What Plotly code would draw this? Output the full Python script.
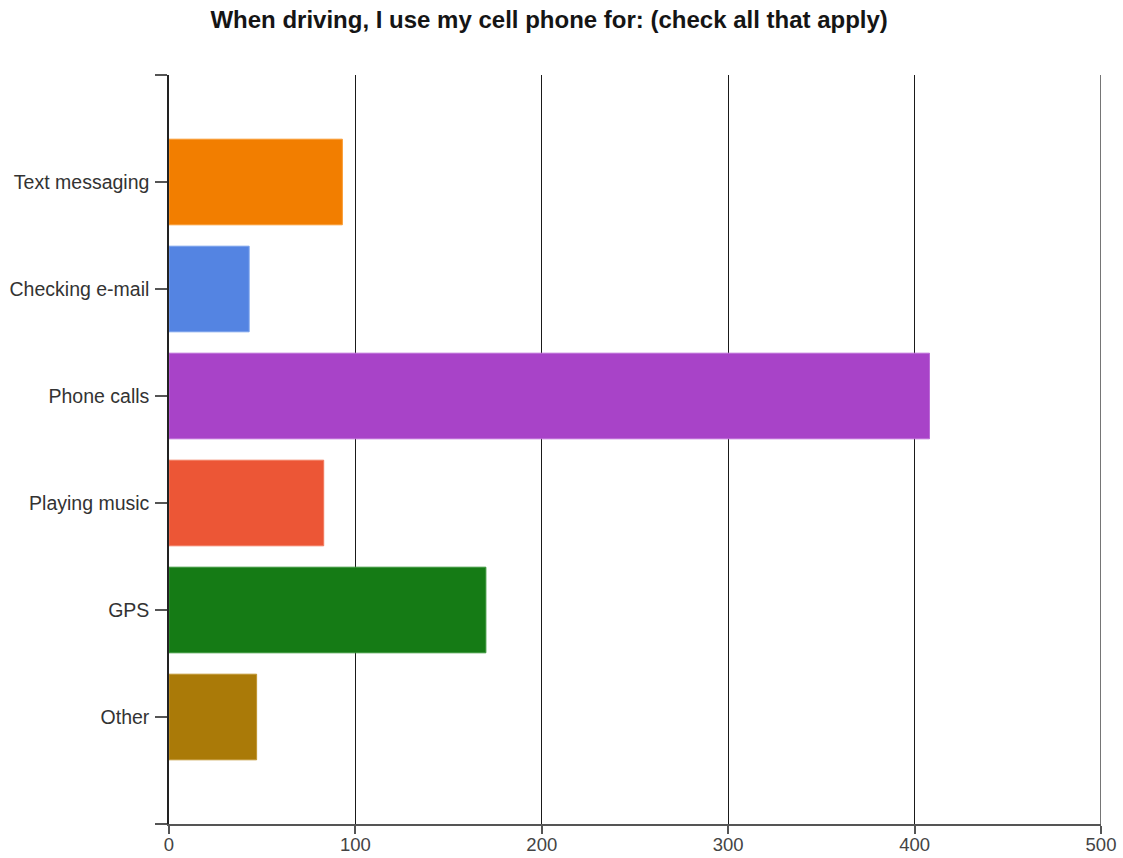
import plotly.graph_objects as go

categories = ["Text messaging", "Checking e-mail", "Phone calls", "Playing music", "GPS", "Other"]
values = [93, 43, 408, 83, 170, 47]
colors = ["#F27E00", "#5484E2", "#A843C8", "#EC5636", "#157B15", "#AA7A08"]
line_colors = ["#F99A30", "#78A0EC", "#BC6AD8", "#F27A5E", "#3A963A", "#C09530"]
x_ticks = [0, 100, 200, 300, 400, 500]

positions = list(range(len(categories)))

fig = go.Figure()
fig.add_trace(go.Bar(
    x=values,
    y=positions,
    orientation="h",
    width=0.8,
    marker=dict(color=colors, line=dict(color=line_colors, width=1)),
    hoverinfo="x+text",
    text=categories,
    textposition="none",
))

fig.update_layout(
    width=1123,
    height=858,
    paper_bgcolor="white",
    plot_bgcolor="white",
    margin=dict(l=169, r=22, t=75, b=34, autoexpand=False),
    title=dict(
        text="<b>When driving, I use my cell phone for: (check all that apply)</b>",
        x=0.489,
        xanchor="center",
        y=0.977,
        yanchor="middle",
        font=dict(family="Liberation Sans, Arial", size=24, color="#151515"),
    ),
    showlegend=False,
    font=dict(family="Liberation Sans, Arial", size=19, color="#444444"),
    bargap=0.2,
    shapes=[dict(type="line", xref="x", yref="paper", x0=x_ticks[-1], x1=x_ticks[-1],
                 y0=0, y1=1, line=dict(color="#1a1a1a", width=1.2))],
)

fig.update_xaxes(
    range=[0, 500],
    automargin=False,
    tickvals=x_ticks,
    ticktext=[str(v) for v in x_ticks],
    showgrid=True,
    gridcolor="#1a1a1a",
    gridwidth=1.2,
    zeroline=False,
    showline=True,
    linecolor="#555555",
    linewidth=1.5,
    ticks="outside",
    ticklen=8,
    tickcolor="#555555",
    tickwidth=1.5,
    tickfont=dict(size=18.5, color="#444444"),
    ticklabelstandoff=-5,
)

fig.update_yaxes(
    range=[6, -1],
    automargin=False,
    tickvals=[-1] + positions + [6],
    ticktext=[""] + categories + [""],
    showgrid=False,
    zeroline=False,
    showline=True,
    linecolor="#222222",
    linewidth=1.5,
    ticks="outside",
    ticklen=12,
    tickcolor="#555555",
    tickwidth=1.5,
    tickfont=dict(size=19.5, color="#333333"),
    ticklabelstandoff=2,
)

fig.write_html(
    "out.html",
    config={"displayModeBar": False},
    post_script="document.body.style.margin='0';document.body.style.overflow='hidden';",
)
